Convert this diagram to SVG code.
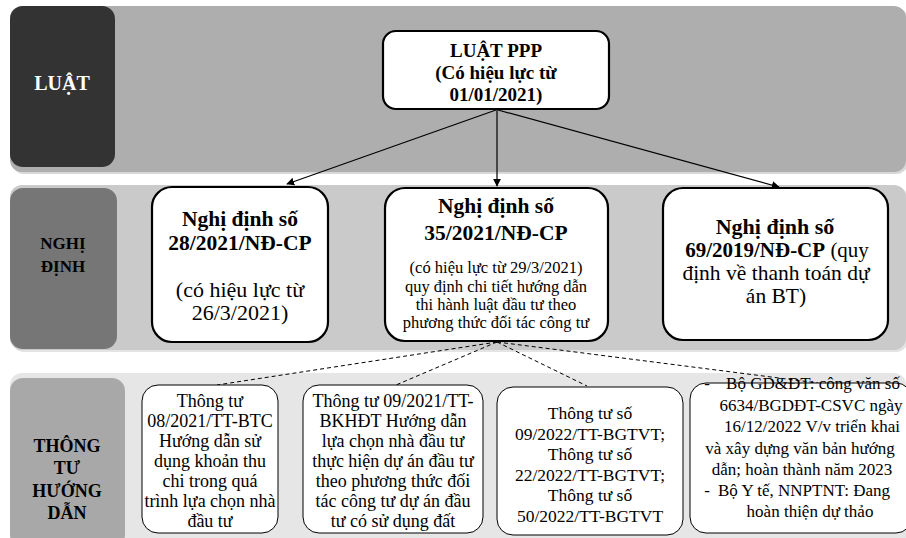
<svg xmlns="http://www.w3.org/2000/svg" width="906" height="538" viewBox="0 0 906 538">
<defs>
<marker id="ah" viewBox="0 0 10 10" refX="9" refY="5" markerWidth="8" markerHeight="8" markerUnits="userSpaceOnUse" orient="auto">
<path d="M0,0 L10,5 L0,10 z" fill="#000"/>
</marker>
</defs>
<style>
text{font-family:"Liberation Serif","Times New Roman",serif;text-anchor:middle;fill:#000}
.b{font-weight:bold}
.lbl{font-weight:bold}
.box{fill:#fff;stroke:#000;stroke-width:2.2}
.tbox{fill:#fff;stroke:#000;stroke-width:1}
.conn{stroke:#000;stroke-width:1.2;fill:none}
.dash{stroke:#000;stroke-width:1;fill:none;stroke-dasharray:4 3}
</style>
<rect width="906" height="538" fill="#fff"/>
<!-- bands -->
<g id="band-luat">
<rect x="12" y="8" width="896" height="166" rx="12" fill="#d8d8d8"/>
<rect x="10" y="6" width="896" height="166" rx="12" fill="#aeaeae"/>
<rect x="10" y="6" width="105" height="161" rx="13" fill="#333"/>
<text x="62" y="90" class="lbl" style="fill:#fff;font-size:20px">LUẬT</text>
</g>
<g id="band-nghidinh">
<rect x="12" y="187" width="896" height="165" rx="12" fill="#e4e4e4"/>
<rect x="10" y="185" width="896" height="165" rx="12" fill="#cacaca"/>
<rect x="10" y="188" width="107" height="161" rx="13" fill="#767676"/>
<text x="63" y="249" class="lbl" style="font-size:17px">NGHỊ</text>
<text x="63" y="272" class="lbl" style="font-size:17px">ĐỊNH</text>
</g>
<g id="band-thongtu">
<rect x="10" y="373" width="896" height="175" rx="12" fill="#e6e6e6"/>
<rect x="10" y="378" width="115" height="170" rx="13" fill="#a8a8a8"/>
<text x="67" y="452" class="lbl" style="font-size:18px">THÔNG</text>
<text x="67" y="474" class="lbl" style="font-size:18px">TƯ</text>
<text x="67" y="497" class="lbl" style="font-size:18px">HƯỚNG</text>
<text x="67" y="519" class="lbl" style="font-size:18px">DẪN</text>
</g>
<!-- connectors -->
<g id="connectors">
<line class="conn" x1="496" y1="110" x2="287" y2="184" marker-end="url(#ah)"/>
<line class="conn" x1="497" y1="110" x2="497" y2="186" marker-end="url(#ah)"/>
<line class="conn" x1="498" y1="110" x2="779" y2="187" marker-end="url(#ah)"/>
<line class="dash" x1="497" y1="342" x2="217" y2="385"/>
<line class="dash" x1="497" y1="342" x2="396" y2="385"/>
<line class="dash" x1="497" y1="342" x2="587" y2="386"/>
<line class="dash" x1="497" y1="342" x2="818" y2="383"/>
</g>
<!-- nodes -->
<g id="luat-ppp">
<rect class="box" x="383" y="31" width="226" height="78" rx="13"/>
<text x="496" y="57" class="b" style="font-size:19px">LUẬT PPP</text>
<text x="496" y="79" class="b" style="font-size:19px">(Có hiệu lực từ</text>
<text x="496" y="101" class="b" style="font-size:19px">01/01/2021)</text>
</g>
<g id="nd-28">
<rect class="box" x="152" y="187" width="176" height="155" rx="20"/>
<text x="240" y="226" class="b" style="font-size:21.5px">Nghị định số</text>
<text x="240" y="250" class="b" style="font-size:21.5px">28/2021/NĐ-CP</text>
<text x="240" y="297" style="font-size:22px">(có hiệu lực từ</text>
<text x="240" y="320" style="font-size:22px">26/3/2021)</text>
</g>
<g id="nd-35">
<rect class="box" x="385" y="188" width="223" height="153" rx="20"/>
<text x="496" y="213" class="b" style="font-size:21.5px">Nghị định số</text>
<text x="496" y="240" class="b" style="font-size:21.5px">35/2021/NĐ-CP</text>
<text x="496" y="273" style="font-size:16.5px">(có hiệu lực từ 29/3/2021)</text>
<text x="496" y="292" style="font-size:16.5px">quy định chi tiết hướng dẫn</text>
<text x="496" y="310" style="font-size:16.5px">thi hành luật đầu tư theo</text>
<text x="496" y="328" style="font-size:16.5px">phương thức đối tác công tư</text>
</g>
<g id="nd-69">
<rect class="box" x="663" y="188" width="225" height="152" rx="20"/>
<text x="775" y="234" class="b" style="font-size:22px">Nghị định số</text>
<text x="777" y="257" style="font-size:21px"><tspan class="b">69/2019/NĐ-CP</tspan> (quy</text>
<text x="776" y="280" style="font-size:21.5px">định về thanh toán dự</text>
<text x="776" y="303" style="font-size:21.5px">án BT)</text>
</g>
<g id="tt-08">
<rect class="tbox" x="142" y="385" width="136" height="148" rx="16"/>
<text x="210" y="407" style="font-size:18px">Thông tư</text>
<text x="210" y="427" style="font-size:18px">08/2021/TT-BTC</text>
<text x="210" y="447" style="font-size:18px">Hướng dẫn sử</text>
<text x="210" y="467" style="font-size:18px">dụng khoản thu</text>
<text x="210" y="487" style="font-size:18px">chi trong quá</text>
<text x="210" y="507" style="font-size:18px">trình lựa chọn nhà</text>
<text x="210" y="527" style="font-size:18px">đầu tư</text>
</g>
<g id="tt-09">
<rect class="tbox" x="303" y="385" width="180" height="148" rx="16"/>
<text x="393" y="407" style="font-size:18px">Thông tư 09/2021/TT-</text>
<text x="393" y="427" style="font-size:18px">BKHĐT Hướng dẫn</text>
<text x="393" y="447" style="font-size:18px">lựa chọn nhà đầu tư</text>
<text x="393" y="467" style="font-size:18px">thực hiện dự án đầu tư</text>
<text x="393" y="487" style="font-size:18px">theo phương thức đối</text>
<text x="393" y="507" style="font-size:18px">tác công tư dự án đầu</text>
<text x="393" y="527" style="font-size:18px">tư có sử dụng đất</text>
</g>
<g id="tt-bgtvt">
<rect class="tbox" x="497" y="387" width="186" height="148" rx="16"/>
<text x="590" y="419" style="font-size:17.5px">Thông tư số</text>
<text x="590" y="440" style="font-size:17.5px">09/2022/TT-BGTVT;</text>
<text x="590" y="460" style="font-size:17.5px">Thông tư số</text>
<text x="590" y="481" style="font-size:17.5px">22/2022/TT-BGTVT;</text>
<text x="590" y="501" style="font-size:17.5px">Thông tư số</text>
<text x="590" y="522" style="font-size:17.5px">50/2022/TT-BGTVT</text>
</g>
<g id="tt-khac">
<rect class="tbox" x="690" y="383" width="222" height="150" rx="16"/>
<text x="707" y="389" style="font-size:17px">-</text>
<text x="813" y="389" style="font-size:17px">Bộ GD&amp;ĐT: công văn số</text>
<text x="811" y="411" style="font-size:17px">6634/BGDĐT-CSVC ngày</text>
<text x="812" y="432" style="font-size:17px">16/12/2022 V/v triển khai</text>
<text x="800" y="454" style="font-size:17px">và xây dựng văn bản hướng</text>
<text x="802" y="475" style="font-size:17px">dẫn; hoàn thành năm 2023</text>
<text x="707" y="496" style="font-size:17px">-</text>
<text x="804" y="496" style="font-size:17px">Bộ Y tế, NNPTNT: Đang</text>
<text x="810" y="517" style="font-size:17px">hoàn thiện dự thảo</text>
</g>
</svg>
